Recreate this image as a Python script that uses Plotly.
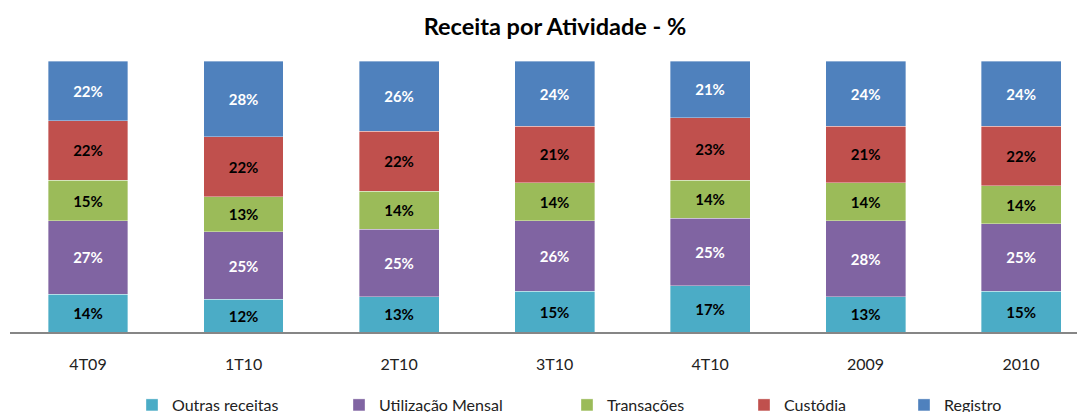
import plotly.graph_objects as go

categories = ["4T09", "1T10", "2T10", "3T10", "4T10", "2009", "2010"]
outras = [14, 12, 13, 15, 17, 13, 15]
utilizacao = [27, 25, 25, 26, 25, 28, 25]
transacoes = [15, 13, 14, 14, 14, 14, 14]
custodia = [22, 22, 22, 21, 23, 21, 22]
registro = [22, 28, 26, 24, 21, 24, 24]

series = [
    ("Outras receitas", outras, "#4BACC6", "black"),
    ("Utilização Mensal", utilizacao, "#8064A2", "white"),
    ("Transações", transacoes, "#9BBB59", "black"),
    ("Custódia", custodia, "#C0504D", "black"),
    ("Registro", registro, "#4F81BD", "white"),
]
# page offset: the browser body has an 8px margin
OFF = 8
legend_x_px = [147, 354, 582, 759, 919]

FONT = "Lato, Open Sans, sans-serif"
W, H = 1085, 412

fig = go.Figure()
layout_legends = {}
for i, (name, vals, color, tcolor) in enumerate(series):
    lname = "legend" if i == 0 else f"legend{i+1}"
    fig.add_trace(go.Bar(
        x=categories, y=vals, name=name,
        marker=dict(color=color, line=dict(color="rgba(255,255,255,0.6)", width=0.6)),
        width=0.514,
        text=[f"{v}%" for v in vals],
        textposition="inside", insidetextanchor="middle", textangle=0,
        insidetextfont=dict(family=FONT, size=15, color=tcolor, weight="bold"),
        hoverinfo="skip",
        legend=lname,
    ))
    layout_legends[lname] = dict(
        orientation="h", xref="container", yref="container",
        x=(legend_x_px[i] - OFF - 15) / W, xanchor="left",
        y=1 - (405 - OFF) / H, yanchor="middle",
        font=dict(family=FONT, size=16, color="#222222"),
        bgcolor="rgba(0,0,0,0)",
    )

fig.update_layout(
    barmode="stack",
    width=W, height=H,
    margin=dict(l=10 - OFF, r=OFF, t=61 - OFF, b=412 - (332 - OFF), autoexpand=False),
    paper_bgcolor="white", plot_bgcolor="white",
    title=dict(text="<b>Receita por Atividade - %</b>", x=(555 - OFF) / W, xanchor="center",
               y=1 - (27 - OFF) / H, yanchor="middle",
               font=dict(family=FONT, size=23.5, color="black")),
    showlegend=True,
    font=dict(family=FONT),
    **layout_legends,
)
fig.update_xaxes(
    range=[-0.5016, 6.411], showline=True, linecolor="#868686", linewidth=2,
    ticks="", tickfont=dict(family=FONT, size=16, color="#222222"),
    ticklabelstandoff=17, automargin=False,
)
fig.update_yaxes(range=[0, 100], visible=False, showgrid=False, automargin=False)

fig.write_html("out.html")
